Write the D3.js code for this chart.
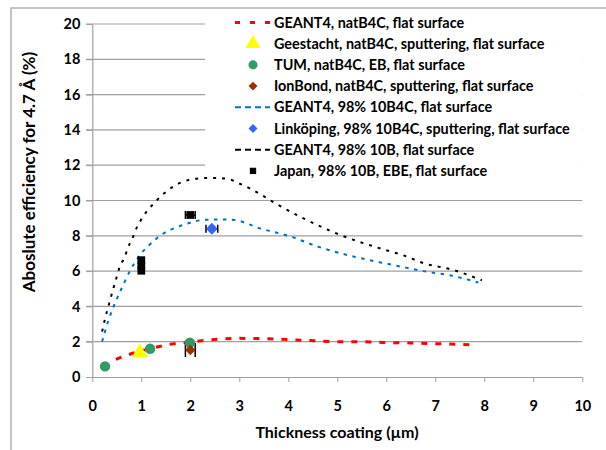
<!DOCTYPE html>
<html><head><meta charset="utf-8">
<script src="https://cdn.jsdelivr.net/npm/d3@7"></script>
<style>body{margin:0;background:#fff}svg{display:block}text{font-family:Lato,"Open Sans",sans-serif;font-weight:bold}</style>
</head><body>
<svg id="c" width="606" height="450"></svg>
<script>
// ---- data ----
const xTicks = [0,1,2,3,4,5,6,7,8,9,10];
const yTicks = [0,2,4,6,8,10,12,14,16,18,20];
const geantNatX = [0.48,0.84,1.2,1.59,2.0,2.33,2.95,3.5,4.0,4.5,5.0,5.5,6.0,6.5,7.0,7.5,7.85];
const geantNatY = [1.0,1.36,1.62,1.85,1.98,2.08,2.19,2.17,2.12,2.06,2.0,2.0,1.95,1.93,1.89,1.85,1.81];
const geantB4CX = [0.2,0.32,0.49,0.59,0.76,0.97,1.14,1.48,1.72,2.02,2.26,2.6,2.9,3.2,3.42,3.66,4.0,4.61,5.22,6.04,6.86,7.27,7.88];
const geantB4CY = [2.0,3.13,4.36,4.97,5.97,6.91,7.42,8.18,8.48,8.76,8.9,8.93,8.9,8.65,8.42,8.25,8.0,7.38,6.9,6.4,5.95,5.78,5.35];
const geantBX = [0.2,0.25,0.36,0.42,0.49,0.56,0.66,0.73,0.82,0.9,1.0,1.12,1.26,1.4,1.51,1.68,1.89,2.22,2.5,2.8,3.01,3.22,3.42,3.76,4.31,4.85,5.22,5.8,6.42,6.75,7.37,7.95];
const geantBY = [2.57,3.19,4.32,4.93,5.59,6.25,6.78,7.35,7.86,8.42,8.93,9.42,9.84,10.25,10.5,10.84,11.1,11.26,11.28,11.2,10.95,10.68,10.37,9.8,8.99,8.29,7.88,7.35,6.82,6.46,6.06,5.48];
const geestachtX = [0.97], geestachtY = [1.38];
const tumX = [0.26,1.18,1.99], tumY = [0.6,1.6,1.94];
const ionbondX = [2.0], ionbondY = [1.53], ionbondErr = [0.1];
const linkX = [2.44], linkY = [8.4], linkErr = [0.12];
const japanX = [1.0,1.0,1.0,2.0], japanY = [6.62,6.32,6.02,9.18], japanErr = [0,0,0,0.1];
const legendLabels = ["GEANT4, natB4C, flat surface","Geestacht, natB4C, sputtering, flat surface","TUM, natB4C, EB, flat surface","IonBond, natB4C, sputtering, flat surface","GEANT4, 98% 10B4C, flat surface","Linköping, 98% 10B4C, sputtering, flat surface","GEANT4, 98% 10B, flat surface","Japan, 98% 10B, EBE, flat surface"];
const xTitle = "Thickness coating (µm)";
const yTitle = "Aboslute efficiency for 4.7 Å (%)";

// ---- chart ----
const svg = d3.select("#c");
const x = d3.scaleLinear().domain([0,10]).range([92.3,582.3]);
const y = d3.scaleLinear().domain([0,20]).range([377,24]);
const C = {red:"#ff0000", yellow:"#ffff00", green:"#339966", brown:"#993300", blue:"#0070c0", lblue:"#3366ff", black:"#000"};

svg.append("rect").attr("x",11).attr("y",8).attr("width",700).attr("height",500)
  .attr("fill","none").attr("stroke","#a6a6a6").attr("stroke-width",1.3);

// grid
svg.append("g").selectAll("line").data(yTicks.filter(d=>d>0)).join("line")
  .attr("x1",86).attr("x2",582.3).attr("y1",d=>y(d)).attr("y2",d=>y(d))
  .attr("stroke","#a0a0a0").attr("stroke-width",1.2);
// x axis
const xa = svg.append("g").attr("transform","translate(0,377)")
  .call(d3.axisBottom(x).tickValues(xTicks).tickSize(5).tickSizeOuter(0).tickFormat(d3.format("d")));
xa.select(".domain").attr("stroke","#a0a0a0").attr("stroke-width",1.2);
xa.selectAll(".tick line").attr("stroke","#a0a0a0");
xa.selectAll(".tick text").attr("font-size",14.5).attr("dy",0).attr("y",34).attr("fill","#000").attr("font-family","Lato").attr("font-weight","bold");
// y axis
const ya = svg.append("g").attr("transform","translate(92.3,0)")
  .call(d3.axisLeft(y).tickValues(yTicks).tickSize(6).tickSizeOuter(0).tickFormat(d3.format("d")));
ya.select(".domain").attr("stroke","#a0a0a0").attr("stroke-width",1.2);
ya.selectAll(".tick line").attr("stroke","#a0a0a0");
ya.selectAll(".tick text").attr("font-size",14.5).attr("x",-12).attr("fill","#000").attr("font-family","Lato").attr("font-weight","bold");

svg.append("text").attr("x",337).attr("y",438).attr("text-anchor","middle").attr("font-size",16).text(xTitle);
svg.append("text").attr("transform","translate(35,172) rotate(-90)").attr("text-anchor","middle").attr("font-size",17).text(yTitle);

// curves
const line = d3.line().x(d=>x(d[0])).y(d=>y(d[1])).curve(d3.curveMonotoneX);
const zip = (a,b)=>a.map((v,i)=>[v,b[i]]);
function curve(xs,ys,col,w,dash){
  svg.append("path").datum(zip(xs,ys)).attr("d",line).attr("fill","none")
    .attr("stroke",col).attr("stroke-width",w).attr("stroke-dasharray",dash);
}
curve(geantNatX,geantNatY,C.red,3,"6,8");
curve(geantB4CX,geantB4CY,C.blue,2,"3.5,5.5");
curve(geantBX,geantBY,C.black,2,"3,6");

// error bars (horizontal, capped)
function hErr(xs,ys,es,cap){
  const g = svg.append("g").attr("stroke","#000").attr("stroke-width",1.5);
  xs.forEach((xv,i)=>{ if(!es[i]) return;
    const yy=y(ys[i]), a=x(xv-es[i]), b=x(xv+es[i]);
    g.append("line").attr("x1",a).attr("x2",b).attr("y1",yy).attr("y2",yy);
    g.append("line").attr("x1",a).attr("x2",a).attr("y1",yy-cap).attr("y2",yy+cap);
    g.append("line").attr("x1",b).attr("x2",b).attr("y1",yy-cap).attr("y2",yy+cap);
  });
}
hErr(ionbondX,ionbondY,ionbondErr,7);
hErr(linkX,linkY,linkErr,4);
hErr(japanX,japanY,japanErr,4);

// markers
const sym = (type,size)=>d3.symbol().type(type).size(size)();
function pts(xs,ys,type,size,col,rot){
  svg.append("g").selectAll("path").data(zip(xs,ys)).join("path")
    .attr("transform",d=>`translate(${x(d[0])},${y(d[1])}) rotate(${rot||0})`).attr("d",sym(type,size)).attr("fill",col);
}
pts(geestachtX,geestachtY,d3.symbolTriangle,110,C.yellow);
pts(tumX,tumY,d3.symbolCircle,85,C.green);
pts(ionbondX,ionbondY,d3.symbolSquare,55,C.brown,45);
pts(linkX,linkY,d3.symbolSquare,70,C.lblue,45);
pts(japanX,japanY,d3.symbolSquare,60,C.black);

// legend
const lg = svg.append("g");
lg.append("rect").attr("x",205).attr("y",13).attr("width",377.3).attr("height",161).attr("fill","#fff");
const items = [
  {t:"line",c:C.red,w:3,d:"5,10"},{t:"sym",s:d3.symbolTriangle,z:100,c:C.yellow},
  {t:"sym",s:d3.symbolCircle,z:65,c:C.green},{t:"sym",s:d3.symbolSquare,z:40,c:C.brown,r:45},
  {t:"line",c:C.blue,w:2,d:"6,4"},{t:"sym",s:d3.symbolSquare,z:40,c:C.lblue,r:45},
  {t:"line",c:C.black,w:2,d:"6,4"},{t:"sym",s:d3.symbolSquare,z:40,c:C.black}];
legendLabels.forEach((lab,i)=>{
  const yy = 22.5 + i*21.2;
  const it = items[i];
  if(it.t==="line"){
    lg.append("line").attr("x1",235).attr("x2",270).attr("y1",yy).attr("y2",yy)
      .attr("stroke",it.c).attr("stroke-width",it.w).attr("stroke-dasharray",it.d);
  } else {
    lg.append("path").attr("transform",`translate(253,${yy}) rotate(${it.r||0})`).attr("d",sym(it.s,it.z)).attr("fill",it.c);
  }
  lg.append("text").attr("x",274).attr("y",yy).attr("dy","0.35em").attr("font-size",14.4).text(lab);
});
</script>
</body></html>
